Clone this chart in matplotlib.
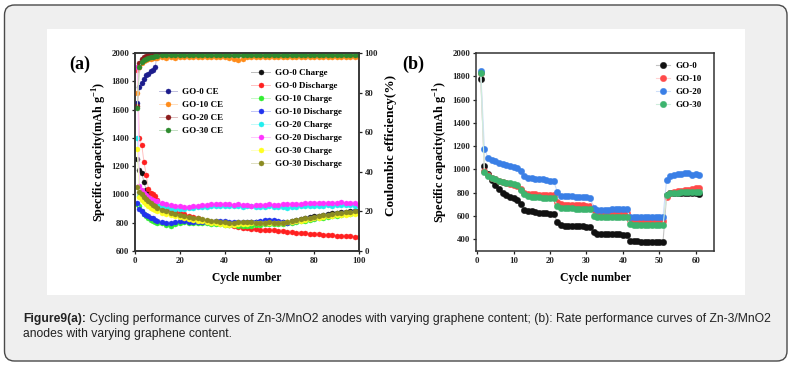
import matplotlib
matplotlib.use("Agg")
import matplotlib.pyplot as plt
from matplotlib.patches import FancyBboxPatch, Rectangle
from matplotlib.colors import to_rgb

plt.rcParams['font.family'] = ['Liberation Serif', 'DejaVu Serif']
plt.rcParams['font.weight'] = 'bold'
plt.rcParams['mathtext.fontset'] = 'custom'
plt.rcParams['mathtext.rm'] = 'Liberation Serif:bold'
plt.rcParams['mathtext.bf'] = 'Liberation Serif:bold'

# ---------------- (a) cycling data ----------------
cycles_a = list(range(1, 11)) + list(range(12, 101, 2))

go0_charge = [1250, 1170, 1150, 1090, 1030, 1000, 970, 950, 930, 915,
              895, 880, 870, 860, 850, 842, 835, 828, 822, 815,
              810, 806, 803, 800, 798, 796, 795, 797, 799, 800,
              802, 805, 808, 812, 815, 812, 808, 805, 808, 812,
              818, 825, 832, 838, 845, 850, 856, 862, 866, 870,
              874, 878, 880, 882, 884]
go0_discharge = [1880, 1400, 1350, 1230, 1140, 1040, 1010, 1000, 990, 960,
                 930, 910, 895, 880, 870, 860, 850, 840, 830, 822,
                 815, 808, 800, 795, 790, 782, 776, 770, 765, 760,
                 757, 754, 752, 750, 748, 745, 742, 738, 735, 732,
                 730, 727, 724, 722, 720, 718, 715, 713, 711, 709,
                 707, 705, 703, 702, 700]
go10_charge = [930, 920, 880, 860, 845, 830, 820, 810, 805, 800,
               795, 785, 780, 790, 800, 805, 800, 798, 800, 795,
               795, 792, 790, 788, 785, 785, 782, 780, 780, 778,
               780, 782, 785, 788, 790, 792, 790, 788, 795, 800,
               805, 810, 815, 820, 825, 830, 835, 840, 845, 850,
               855, 860, 862, 866, 870]
go10_discharge = [940, 900, 880, 865, 855, 845, 835, 830, 820, 815,
                  808, 800, 800, 805, 810, 812, 808, 805, 803, 805,
                  805, 808, 810, 812, 810, 808, 805, 805, 808, 805,
                  805, 808, 812, 818, 820, 818, 815, 805, 800, 805,
                  812, 820, 825, 830, 835, 840, 845, 852, 858, 862,
                  868, 872, 875, 880, 885]
go20_charge = [1400, 990, 975, 965, 955, 945, 940, 935, 930, 925,
               918, 912, 905, 900, 898, 900, 902, 905, 908, 910,
               912, 915, 915, 918, 915, 915, 918, 915, 912, 915,
               915, 912, 910, 912, 915, 912, 910, 908, 905, 910,
               912, 915, 915, 918, 918, 920, 920, 922, 920, 922,
               925, 925, 922, 920, 918]
go20_discharge = [1900, 1060, 1030, 1010, 995, 980, 970, 960, 955, 950,
                  940, 932, 925, 920, 915, 912, 910, 915, 920, 925,
                  928, 930, 932, 935, 932, 930, 928, 930, 925, 922,
                  920, 922, 925, 928, 930, 925, 928, 935, 930, 932,
                  930, 935, 938, 940, 938, 940, 942, 940, 938, 942,
                  945, 942, 940, 938, 925]
go30_charge = [1320, 980, 960, 945, 930, 918, 905, 895, 888, 880,
               870, 862, 855, 848, 842, 835, 828, 820, 815, 810,
               805, 800, 795, 790, 786, 785, 786, 788, 790, 792,
               795, 798, 800, 800, 798, 795, 795, 798, 802, 805,
               810, 815, 820, 825, 830, 835, 840, 845, 850, 852,
               855, 858, 860, 862, 866]
go30_discharge = [1050, 1020, 1000, 980, 965, 950, 938, 925, 915, 905,
                  892, 880, 870, 862, 855, 848, 842, 836, 830, 825,
                  820, 815, 810, 806, 802, 800, 800, 802, 804, 805,
                  803, 800, 798, 800, 802, 800, 798, 800, 808, 812,
                  818, 824, 830, 836, 842, 848, 852, 856, 862, 868,
                  872, 875, 878, 880, 882]

go0_ce = [75, 83, 85, 87, 89, 89.5, 91, 91.5, 93, 99.5,
          99.6, 99.8, 99.7, 99.8, 99.6, 99.7, 99.8, 99.6, 99.7, 99.8,
          99.7, 99.6, 99.8, 99.5, 99.7, 99.6, 99.0, 99.6, 99.7, 99.8,
          99.7, 99.6, 99.8, 99.7, 99.6, 99.8, 99.7, 99.6, 99.8, 99.7,
          99.6, 99.8, 99.7, 99.6, 99.8, 99.7, 99.6, 99.8, 99.7, 99.6,
          99.8, 99.7, 99.6, 99.8, 99.7]
go10_ce = [80, 93, 95, 96, 96.5, 97, 97, 97.3, 97.5, 97.6,
           97.8, 97.6, 97.9, 97.7, 98.0, 97.8, 97.9, 98.1, 97.8, 98.0,
           97.9, 98.0, 97.8, 98.1, 97.9, 97.6, 97.0, 96.4, 97.2, 97.8,
           98.0, 97.9, 98.2, 98.0, 97.8, 98.1, 97.9, 98.0, 98.2, 97.9,
           98.0, 98.1, 97.9, 98.2, 98.0, 97.9, 98.1, 98.0, 98.2, 97.9,
           98.0, 98.1, 97.9, 98.0, 98.1]
go20_ce = [73, 95, 97, 98, 98.5, 98.8, 99.0, 99.1, 99.2, 99.3,
           99.4, 99.3, 99.5, 99.4, 99.3, 99.5, 99.4, 99.6, 99.4, 99.3,
           99.5, 99.4, 99.3, 99.5, 99.4, 99.6, 99.4, 99.3, 99.5, 99.4,
           99.3, 99.5, 99.4, 99.6, 99.4, 99.3, 99.5, 99.4, 99.3, 99.5,
           99.4, 99.6, 99.4, 99.3, 99.5, 99.4, 99.3, 99.5, 99.4, 99.6,
           99.4, 99.3, 99.5, 99.4, 99.3]
go30_ce = [72, 93, 95.5, 96.5, 97, 97.5, 98, 98.2, 98.5, 98.7,
           98.9, 99.0, 99.1, 98.9, 99.2, 99.0, 99.1, 99.2, 98.9, 99.1,
           99.0, 99.2, 99.1, 98.9, 99.0, 99.2, 99.1, 99.0, 99.2, 98.9,
           99.1, 99.0, 99.2, 99.1, 99.0, 98.9, 99.2, 99.1, 99.0, 99.2,
           99.1, 98.9, 99.0, 99.2, 99.1, 99.0, 99.2, 98.9, 99.1, 99.0,
           99.2, 99.1, 99.0, 99.2, 99.1]

# ---------------- (b) rate data ----------------
cycles_b = list(range(1, 62))

go0_rate = [1780, 1030, 960, 909, 866, 829, 794, 780, 766, 751, 737, 703,
            651, 645, 640, 635, 630, 625, 622, 618, 615,
            551, 520, 518, 516, 515, 514, 513, 512, 510, 508,
            466, 450, 448, 446, 445, 444, 443, 442, 441, 440,
            389, 385, 382, 380, 378, 377, 376, 375, 375, 374,
            780, 795, 798, 800, 800, 802, 800, 798, 795, 790]
go10_rate = [1830, 985, 955, 930, 915, 900, 890, 880, 872, 868, 860, 830,
             800, 790, 790, 788, 785, 785, 783, 782, 780,
             720, 700, 698, 696, 695, 694, 693, 692, 690, 688,
             650, 635, 635, 634, 633, 633, 632, 632, 631, 630,
             570, 560, 558, 557, 556, 556, 555, 555, 554, 554,
             765, 800, 810, 815, 818, 822, 828, 832, 838, 840]
go20_rate = [1845, 1180, 1100, 1085, 1070, 1055, 1045, 1040, 1030, 1025, 1010, 990,
             940, 930, 925, 922, 920, 915, 910, 905, 900,
             810, 775, 772, 770, 768, 766, 764, 762, 760, 758,
             670, 655, 655, 656, 656, 657, 657, 658, 658, 658,
             590, 588, 590, 591, 590, 589, 590, 591, 590, 590,
             910, 940, 955, 960, 965, 968, 968, 955, 960, 955]
go30_rate = [1830, 980, 945, 930, 915, 900, 895, 885, 880, 878, 870, 820,
             790, 770, 765, 762, 760, 758, 756, 755, 755,
             690, 670, 668, 666, 665, 664, 663, 662, 661, 660,
             600, 590, 590, 589, 589, 588, 588, 588, 588, 588,
             530, 520, 520, 520, 520, 520, 520, 520, 520, 520,
             785, 795, 800, 802, 805, 808, 810, 810, 808, 808]


def pale(c, f=0.72):
    r, g, b = to_rgb(c)
    return (r + (1 - r) * f, g + (1 - g) * f, b + (1 - b) * f)


W, H = 799, 366
fig = plt.figure(figsize=(W / 100, H / 100), dpi=100)

# background frame, white panel and caption (pixel coords)
bg = fig.add_axes([0, 0, 1, 1], zorder=-5)
bg.set_xlim(0, W)
bg.set_ylim(H, 0)
bg.axis('off')
bg.add_patch(FancyBboxPatch((4.5, 5), 782.5, 356, boxstyle="round,pad=0,rounding_size=10",
                            fc='#efefef', ec='#4a4a4a', lw=1.0))
bg.add_patch(Rectangle((47, 29), 698, 266, fc='white', ec='none'))
cap_kw = dict(family=['Liberation Sans', 'DejaVu Sans'], fontsize=8.7, color='#222222')
t1 = bg.text(23, 319, "Figure9(a):", weight='bold', va='center', **cap_kw)
bg.annotate(" Cycling performance curves of Zn-3/MnO2 anodes with varying graphene content; "
            "(b): Rate performance curves of Zn-3/MnO2",
            xy=(1, 0.5), xycoords=t1, va='center', ha='left', weight='normal', **cap_kw)
bg.text(23, 334, "anodes with varying graphene content.", weight='normal', va='center', **cap_kw)

tick_kw = dict(direction='out', length=2.5, width=0.9, labelsize=6.3, pad=1.5, colors='#222222')


def style(ax):
    for s in ax.spines.values():
        s.set_linewidth(1.1)
        s.set_color('#333333')
    ax.tick_params(**tick_kw)
    for lab in ax.get_xticklabels() + ax.get_yticklabels():
        lab.set_fontweight('bold')


# ================= (a) =================
ax1 = fig.add_axes([135 / W, 1 - 251 / H, 224 / W, 198 / H])
ax1.set_facecolor('none')
ax2 = ax1.twinx()

cap_series = [
    (go0_charge, '#111111', 'GO-0 Charge'),
    (go0_discharge, '#ff2020', 'GO-0 Discharge'),
    (go10_charge, '#33ee33', 'GO-10 Charge'),
    (go10_discharge, '#2233ee', 'GO-10 Discharge'),
    (go20_charge, '#22eeee', 'GO-20 Charge'),
    (go20_discharge, '#ff33ff', 'GO-20 Discharge'),
    (go30_charge, '#ffff22', 'GO-30 Charge'),
    (go30_discharge, '#8b8b22', 'GO-30 Discharge'),
]
h_cap = []
for y, c, lab in cap_series:
    h, = ax1.plot(cycles_a, y, color=pale(c), lw=0.7, marker='o', ms=3.6,
                  mfc=c, mec=c, mew=0.3, label=lab)
    h_cap.append(h)

ce_series = [
    (go0_ce, '#1c1c8c', 'GO-0 CE'),
    (go10_ce, '#ff8c1a', 'GO-10 CE'),
    (go20_ce, '#8c1c1c', 'GO-20 CE'),
    (go30_ce, '#2e8b2e', 'GO-30 CE'),
]
h_ce = []
for y, c, lab in ce_series:
    h, = ax2.plot(cycles_a, y, color=pale(c), lw=0.7, marker='o', ms=3.6,
                  mfc=c, mec=c, mew=0.3, label=lab)
    h_ce.append(h)

ax1.set_xlim(0, 100)
ax1.set_ylim(600, 2000)
ax2.set_ylim(0, 100)
ax1.set_xticks(range(0, 101, 20))
ax1.set_yticks(range(600, 2001, 200))
ax2.set_yticks(range(0, 101, 20))
style(ax1)
style(ax2)
ax1.set_xlabel('Cycle number', fontsize=8.3, fontweight='bold', labelpad=5)
ax1.set_ylabel(r'Specific capacity(mAh g$^{\mathbf{-1}}$)', fontsize=8.7, fontweight='bold', labelpad=1.5)
ax2.set_ylabel('Coulombic efficiency(%)', fontsize=9.5, fontweight='bold', rotation=90)
ax2.yaxis.set_label_coords(1.116, 0.535)

leg_kw = dict(frameon=False, prop={'size': 6.5, 'weight': 'bold'}, handlelength=2.1,
              handletextpad=0.5, borderpad=0, borderaxespad=0, labelspacing=0.52,
              loc='upper left')
l1 = ax2.legend(handles=h_ce, bbox_to_anchor=(0.105, 0.825), **leg_kw)
ax2.add_artist(l1)
ax2.legend(handles=h_cap, bbox_to_anchor=(0.52, 0.92), **leg_kw)

fig.text(80 / W, 1 - 64 / H, '(a)', fontsize=13, fontweight='bold', ha='center', va='center')

# ================= (b) =================
ax3 = fig.add_axes([476 / W, 1 - 251 / H, 238 / W, 198 / H])
ax3.set_facecolor('none')
rate_series = [
    (go0_rate, '#111111', 'GO-0'),
    (go10_rate, '#ff4a4a', 'GO-10'),
    (go20_rate, '#3a7fe6', 'GO-20'),
    (go30_rate, '#3cb46e', 'GO-30'),
]
for y, c, lab in rate_series:
    ax3.plot(cycles_b, y, color=pale(c, 0.75), lw=0.8, marker='o', ms=4.6,
             mfc=c, mec=c, mew=0.3, label=lab)
ax3.set_xlim(-0.3, 65)
ax3.set_ylim(300, 2000)
ax3.set_xticks(range(0, 61, 10))
ax3.set_yticks(range(400, 2001, 200))
style(ax3)
ax3.set_xlabel('Cycle number', fontsize=8.5, fontweight='bold', labelpad=5)
ax3.set_ylabel(r'Specific capacity(mAh g$^{\mathbf{-1}}$)', fontsize=8.8, fontweight='bold', labelpad=1.5)
ax3.legend(frameon=False, prop={'size': 6.5, 'weight': 'bold'}, handlelength=1.6,
           handletextpad=0.6, borderpad=0, borderaxespad=0, labelspacing=0.5,
           loc='upper left', bbox_to_anchor=(0.755, 0.955))

fig.text(413 / W, 1 - 64 / H, '(b)', fontsize=13, fontweight='bold', ha='center', va='center')

fig.savefig('out.png', dpi=100)
